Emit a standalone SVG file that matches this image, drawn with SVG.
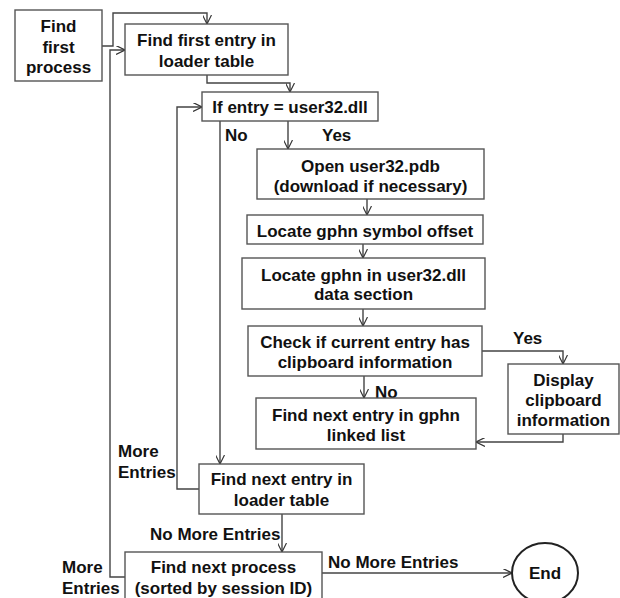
<svg xmlns="http://www.w3.org/2000/svg" width="620" height="598" viewBox="0 0 620 598">
<defs>
<marker id="ah" viewBox="0 0 10 10" refX="10" refY="5" markerWidth="9" markerHeight="9" markerUnits="userSpaceOnUse" orient="auto">
<path d="M0,0 L10,5 L0,10" fill="none" stroke="#333" stroke-width="1.3"/>
</marker>
<style>
.box{fill:#fff;stroke:#555;stroke-width:1.4}
.t{font-family:"Liberation Sans",Arial,sans-serif;font-weight:bold;font-size:17px;fill:#111;text-anchor:middle;dominant-baseline:central}
.l{font-family:"Liberation Sans",Arial,sans-serif;font-weight:bold;font-size:17px;fill:#111;dominant-baseline:central}
.c{fill:none;stroke:#444;stroke-width:1.4}
.a{marker-end:url(#ah)}
</style>
</defs>
<rect width="620" height="598" fill="#fff"/>
<g id="connectors">
<path class="c a" d="M102,46 H113 V13 H207 V24"/>
<path class="c a" d="M125,577 H110 V50 H125"/>
<path class="c a" d="M207,75 V83 H290 V92"/>
<path class="c a" d="M220,121 V464"/>
<path class="c a" d="M199,489 H177 V107 H202"/>
<path class="c a" d="M288,121 V149"/>
<path class="c a" d="M367,199 V215"/>
<path class="c a" d="M363,244 V258"/>
<path class="c a" d="M363,309 V326"/>
<path class="c a" d="M482,351 H563 V364"/>
<path class="c a" d="M364,376 V398"/>
<path class="c a" d="M563,434 V442 H476"/>
<path class="c a" d="M282,514 V552"/>
<path class="c a" d="M322,573 H512"/>
</g>
<g id="labels">
<text class="l" x="225" y="135">No</text>
<text class="l" x="322" y="135">Yes</text>
<text class="l" x="513" y="338">Yes</text>
<text class="l" x="375" y="392">No</text>
<text class="l" x="118" y="451">More</text>
<text class="l" x="118" y="472">Entries</text>
<text class="l" x="150" y="534">No More Entries</text>
<text class="l" x="328" y="562">No More Entries</text>
<text class="l" x="62" y="567">More</text>
<text class="l" x="62" y="588">Entries</text>
</g>
<g id="find-first-process">
<rect class="box" x="15" y="10" width="87" height="71"/>
<text class="t" x="58.5" y="26">Find</text>
<text class="t" x="58.5" y="47">first</text>
<text class="t" x="58.5" y="67">process</text>
</g>
<g id="find-first-entry">
<rect class="box" x="125" y="24" width="163" height="51"/>
<text class="t" x="206.5" y="40">Find first entry in</text>
<text class="t" x="206.5" y="61">loader table</text>
</g>
<g id="if-entry">
<rect class="box" x="202" y="92" width="176" height="29"/>
<text class="t" x="290" y="107">If entry = user32.dll</text>
</g>
<g id="open-pdb">
<rect class="box" x="257" y="149" width="227" height="50"/>
<text class="t" x="370.5" y="166">Open user32.pdb</text>
<text class="t" x="370.5" y="186">(download if necessary)</text>
</g>
<g id="locate-offset">
<rect class="box" x="247" y="215" width="236" height="29"/>
<text class="t" x="365" y="231">Locate gphn symbol offset</text>
</g>
<g id="locate-gphn">
<rect class="box" x="242" y="258" width="243" height="51"/>
<text class="t" x="363.5" y="275">Locate gphn in user32.dll</text>
<text class="t" x="363.5" y="294">data section</text>
</g>
<g id="check-entry">
<rect class="box" x="248" y="326" width="234" height="50"/>
<text class="t" x="365" y="342">Check if current entry has</text>
<text class="t" x="365" y="362">clipboard information</text>
</g>
<g id="display-clipboard">
<rect class="box" x="508" y="364" width="111" height="70"/>
<text class="t" x="563.5" y="380">Display</text>
<text class="t" x="563.5" y="400">clipboard</text>
<text class="t" x="563.5" y="420">information</text>
</g>
<g id="next-gphn">
<rect class="box" x="256" y="398" width="220" height="51"/>
<text class="t" x="366" y="415">Find next entry in gphn</text>
<text class="t" x="366" y="435">linked list</text>
</g>
<g id="next-loader">
<rect class="box" x="199" y="464" width="165" height="50"/>
<text class="t" x="281.5" y="479">Find next entry in</text>
<text class="t" x="281.5" y="500">loader table</text>
</g>
<g id="next-process">
<rect class="box" x="125" y="552" width="197" height="60"/>
<text class="t" x="223.5" y="567">Find next process</text>
<text class="t" x="223.5" y="588">(sorted by session ID)</text>
</g>
<g id="end">
<ellipse cx="545" cy="573" rx="33" ry="30" fill="#fff" stroke="#222" stroke-width="2"/>
<text class="t" x="545" y="573">End</text>
</g>
</svg>
